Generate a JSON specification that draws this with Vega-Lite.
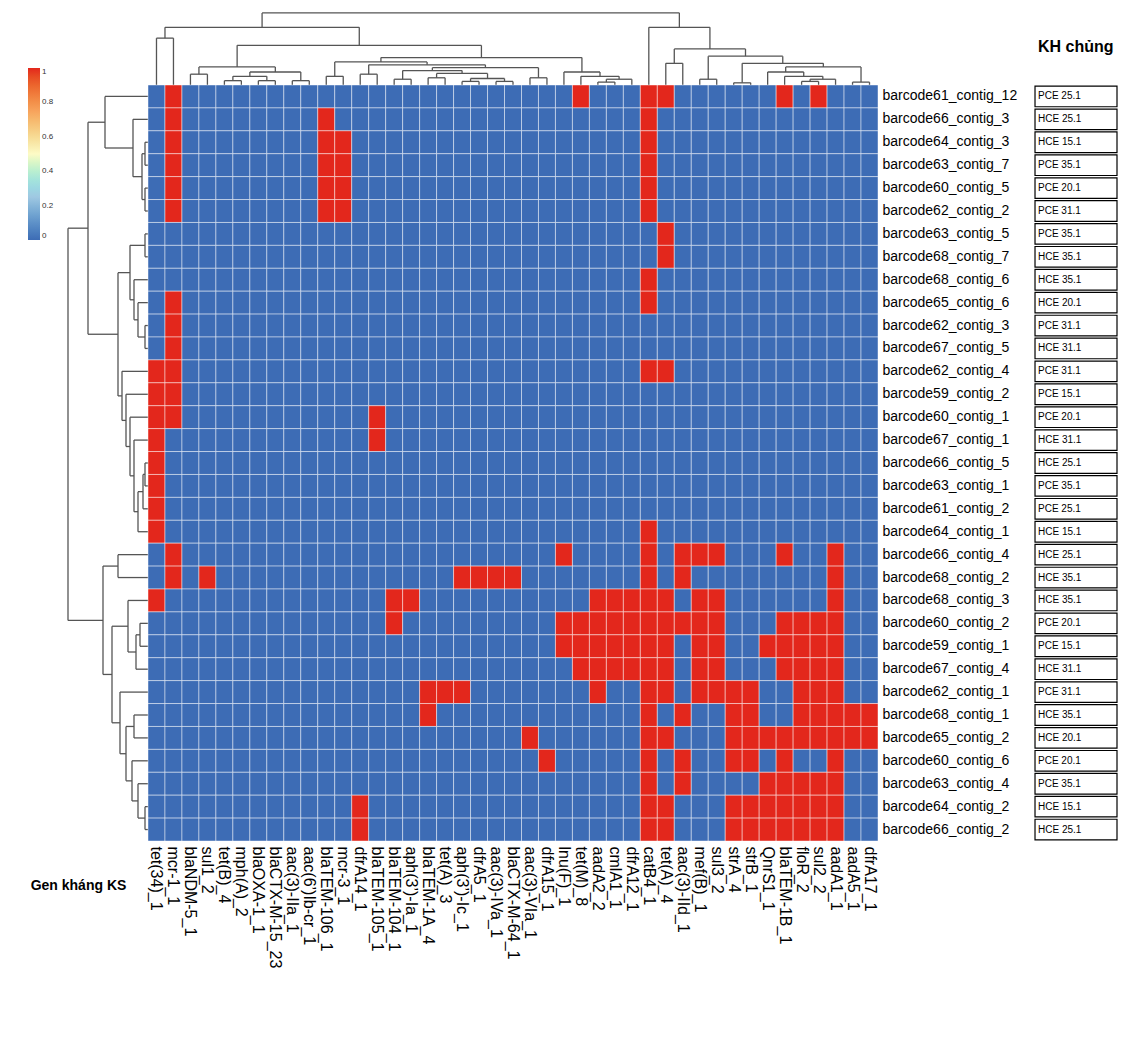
{
"$schema": "https://vega.github.io/schema/vega-lite/v6.json",
"padding": {"left": 20, "top": 10, "right": 5, "bottom": 5},
"config": {"view": {"stroke": null}, "font": "Liberation Sans"},
"datasets": {
"m": [
{"b":"barcode61_contig_12","k":"PCE 25.1","c01":0,"c02":1,"c03":0,"c04":0,"c05":0,"c06":0,"c07":0,"c08":0,"c09":0,"c10":0,"c11":0,"c12":0,"c13":0,"c14":0,"c15":0,"c16":0,"c17":0,"c18":0,"c19":0,"c20":0,"c21":0,"c22":0,"c23":0,"c24":0,"c25":0,"c26":1,"c27":0,"c28":0,"c29":0,"c30":1,"c31":1,"c32":0,"c33":0,"c34":0,"c35":0,"c36":0,"c37":0,"c38":1,"c39":0,"c40":1,"c41":0,"c42":0,"c43":0},
{"b":"barcode66_contig_3","k":"HCE 25.1","c01":0,"c02":1,"c03":0,"c04":0,"c05":0,"c06":0,"c07":0,"c08":0,"c09":0,"c10":0,"c11":1,"c12":0,"c13":0,"c14":0,"c15":0,"c16":0,"c17":0,"c18":0,"c19":0,"c20":0,"c21":0,"c22":0,"c23":0,"c24":0,"c25":0,"c26":0,"c27":0,"c28":0,"c29":0,"c30":1,"c31":0,"c32":0,"c33":0,"c34":0,"c35":0,"c36":0,"c37":0,"c38":0,"c39":0,"c40":0,"c41":0,"c42":0,"c43":0},
{"b":"barcode64_contig_3","k":"HCE 15.1","c01":0,"c02":1,"c03":0,"c04":0,"c05":0,"c06":0,"c07":0,"c08":0,"c09":0,"c10":0,"c11":1,"c12":1,"c13":0,"c14":0,"c15":0,"c16":0,"c17":0,"c18":0,"c19":0,"c20":0,"c21":0,"c22":0,"c23":0,"c24":0,"c25":0,"c26":0,"c27":0,"c28":0,"c29":0,"c30":1,"c31":0,"c32":0,"c33":0,"c34":0,"c35":0,"c36":0,"c37":0,"c38":0,"c39":0,"c40":0,"c41":0,"c42":0,"c43":0},
{"b":"barcode63_contig_7","k":"PCE 35.1","c01":0,"c02":1,"c03":0,"c04":0,"c05":0,"c06":0,"c07":0,"c08":0,"c09":0,"c10":0,"c11":1,"c12":1,"c13":0,"c14":0,"c15":0,"c16":0,"c17":0,"c18":0,"c19":0,"c20":0,"c21":0,"c22":0,"c23":0,"c24":0,"c25":0,"c26":0,"c27":0,"c28":0,"c29":0,"c30":1,"c31":0,"c32":0,"c33":0,"c34":0,"c35":0,"c36":0,"c37":0,"c38":0,"c39":0,"c40":0,"c41":0,"c42":0,"c43":0},
{"b":"barcode60_contig_5","k":"PCE 20.1","c01":0,"c02":1,"c03":0,"c04":0,"c05":0,"c06":0,"c07":0,"c08":0,"c09":0,"c10":0,"c11":1,"c12":1,"c13":0,"c14":0,"c15":0,"c16":0,"c17":0,"c18":0,"c19":0,"c20":0,"c21":0,"c22":0,"c23":0,"c24":0,"c25":0,"c26":0,"c27":0,"c28":0,"c29":0,"c30":1,"c31":0,"c32":0,"c33":0,"c34":0,"c35":0,"c36":0,"c37":0,"c38":0,"c39":0,"c40":0,"c41":0,"c42":0,"c43":0},
{"b":"barcode62_contig_2","k":"PCE 31.1","c01":0,"c02":1,"c03":0,"c04":0,"c05":0,"c06":0,"c07":0,"c08":0,"c09":0,"c10":0,"c11":1,"c12":1,"c13":0,"c14":0,"c15":0,"c16":0,"c17":0,"c18":0,"c19":0,"c20":0,"c21":0,"c22":0,"c23":0,"c24":0,"c25":0,"c26":0,"c27":0,"c28":0,"c29":0,"c30":1,"c31":0,"c32":0,"c33":0,"c34":0,"c35":0,"c36":0,"c37":0,"c38":0,"c39":0,"c40":0,"c41":0,"c42":0,"c43":0},
{"b":"barcode63_contig_5","k":"PCE 35.1","c01":0,"c02":0,"c03":0,"c04":0,"c05":0,"c06":0,"c07":0,"c08":0,"c09":0,"c10":0,"c11":0,"c12":0,"c13":0,"c14":0,"c15":0,"c16":0,"c17":0,"c18":0,"c19":0,"c20":0,"c21":0,"c22":0,"c23":0,"c24":0,"c25":0,"c26":0,"c27":0,"c28":0,"c29":0,"c30":0,"c31":1,"c32":0,"c33":0,"c34":0,"c35":0,"c36":0,"c37":0,"c38":0,"c39":0,"c40":0,"c41":0,"c42":0,"c43":0},
{"b":"barcode68_contig_7","k":"HCE 35.1","c01":0,"c02":0,"c03":0,"c04":0,"c05":0,"c06":0,"c07":0,"c08":0,"c09":0,"c10":0,"c11":0,"c12":0,"c13":0,"c14":0,"c15":0,"c16":0,"c17":0,"c18":0,"c19":0,"c20":0,"c21":0,"c22":0,"c23":0,"c24":0,"c25":0,"c26":0,"c27":0,"c28":0,"c29":0,"c30":0,"c31":1,"c32":0,"c33":0,"c34":0,"c35":0,"c36":0,"c37":0,"c38":0,"c39":0,"c40":0,"c41":0,"c42":0,"c43":0},
{"b":"barcode68_contig_6","k":"HCE 35.1","c01":0,"c02":0,"c03":0,"c04":0,"c05":0,"c06":0,"c07":0,"c08":0,"c09":0,"c10":0,"c11":0,"c12":0,"c13":0,"c14":0,"c15":0,"c16":0,"c17":0,"c18":0,"c19":0,"c20":0,"c21":0,"c22":0,"c23":0,"c24":0,"c25":0,"c26":0,"c27":0,"c28":0,"c29":0,"c30":1,"c31":0,"c32":0,"c33":0,"c34":0,"c35":0,"c36":0,"c37":0,"c38":0,"c39":0,"c40":0,"c41":0,"c42":0,"c43":0},
{"b":"barcode65_contig_6","k":"HCE 20.1","c01":0,"c02":1,"c03":0,"c04":0,"c05":0,"c06":0,"c07":0,"c08":0,"c09":0,"c10":0,"c11":0,"c12":0,"c13":0,"c14":0,"c15":0,"c16":0,"c17":0,"c18":0,"c19":0,"c20":0,"c21":0,"c22":0,"c23":0,"c24":0,"c25":0,"c26":0,"c27":0,"c28":0,"c29":0,"c30":1,"c31":0,"c32":0,"c33":0,"c34":0,"c35":0,"c36":0,"c37":0,"c38":0,"c39":0,"c40":0,"c41":0,"c42":0,"c43":0},
{"b":"barcode62_contig_3","k":"PCE 31.1","c01":0,"c02":1,"c03":0,"c04":0,"c05":0,"c06":0,"c07":0,"c08":0,"c09":0,"c10":0,"c11":0,"c12":0,"c13":0,"c14":0,"c15":0,"c16":0,"c17":0,"c18":0,"c19":0,"c20":0,"c21":0,"c22":0,"c23":0,"c24":0,"c25":0,"c26":0,"c27":0,"c28":0,"c29":0,"c30":0,"c31":0,"c32":0,"c33":0,"c34":0,"c35":0,"c36":0,"c37":0,"c38":0,"c39":0,"c40":0,"c41":0,"c42":0,"c43":0},
{"b":"barcode67_contig_5","k":"HCE 31.1","c01":0,"c02":1,"c03":0,"c04":0,"c05":0,"c06":0,"c07":0,"c08":0,"c09":0,"c10":0,"c11":0,"c12":0,"c13":0,"c14":0,"c15":0,"c16":0,"c17":0,"c18":0,"c19":0,"c20":0,"c21":0,"c22":0,"c23":0,"c24":0,"c25":0,"c26":0,"c27":0,"c28":0,"c29":0,"c30":0,"c31":0,"c32":0,"c33":0,"c34":0,"c35":0,"c36":0,"c37":0,"c38":0,"c39":0,"c40":0,"c41":0,"c42":0,"c43":0},
{"b":"barcode62_contig_4","k":"PCE 31.1","c01":1,"c02":1,"c03":0,"c04":0,"c05":0,"c06":0,"c07":0,"c08":0,"c09":0,"c10":0,"c11":0,"c12":0,"c13":0,"c14":0,"c15":0,"c16":0,"c17":0,"c18":0,"c19":0,"c20":0,"c21":0,"c22":0,"c23":0,"c24":0,"c25":0,"c26":0,"c27":0,"c28":0,"c29":0,"c30":1,"c31":1,"c32":0,"c33":0,"c34":0,"c35":0,"c36":0,"c37":0,"c38":0,"c39":0,"c40":0,"c41":0,"c42":0,"c43":0},
{"b":"barcode59_contig_2","k":"PCE 15.1","c01":1,"c02":1,"c03":0,"c04":0,"c05":0,"c06":0,"c07":0,"c08":0,"c09":0,"c10":0,"c11":0,"c12":0,"c13":0,"c14":0,"c15":0,"c16":0,"c17":0,"c18":0,"c19":0,"c20":0,"c21":0,"c22":0,"c23":0,"c24":0,"c25":0,"c26":0,"c27":0,"c28":0,"c29":0,"c30":0,"c31":0,"c32":0,"c33":0,"c34":0,"c35":0,"c36":0,"c37":0,"c38":0,"c39":0,"c40":0,"c41":0,"c42":0,"c43":0},
{"b":"barcode60_contig_1","k":"PCE 20.1","c01":1,"c02":1,"c03":0,"c04":0,"c05":0,"c06":0,"c07":0,"c08":0,"c09":0,"c10":0,"c11":0,"c12":0,"c13":0,"c14":1,"c15":0,"c16":0,"c17":0,"c18":0,"c19":0,"c20":0,"c21":0,"c22":0,"c23":0,"c24":0,"c25":0,"c26":0,"c27":0,"c28":0,"c29":0,"c30":0,"c31":0,"c32":0,"c33":0,"c34":0,"c35":0,"c36":0,"c37":0,"c38":0,"c39":0,"c40":0,"c41":0,"c42":0,"c43":0},
{"b":"barcode67_contig_1","k":"HCE 31.1","c01":1,"c02":0,"c03":0,"c04":0,"c05":0,"c06":0,"c07":0,"c08":0,"c09":0,"c10":0,"c11":0,"c12":0,"c13":0,"c14":1,"c15":0,"c16":0,"c17":0,"c18":0,"c19":0,"c20":0,"c21":0,"c22":0,"c23":0,"c24":0,"c25":0,"c26":0,"c27":0,"c28":0,"c29":0,"c30":0,"c31":0,"c32":0,"c33":0,"c34":0,"c35":0,"c36":0,"c37":0,"c38":0,"c39":0,"c40":0,"c41":0,"c42":0,"c43":0},
{"b":"barcode66_contig_5","k":"HCE 25.1","c01":1,"c02":0,"c03":0,"c04":0,"c05":0,"c06":0,"c07":0,"c08":0,"c09":0,"c10":0,"c11":0,"c12":0,"c13":0,"c14":0,"c15":0,"c16":0,"c17":0,"c18":0,"c19":0,"c20":0,"c21":0,"c22":0,"c23":0,"c24":0,"c25":0,"c26":0,"c27":0,"c28":0,"c29":0,"c30":0,"c31":0,"c32":0,"c33":0,"c34":0,"c35":0,"c36":0,"c37":0,"c38":0,"c39":0,"c40":0,"c41":0,"c42":0,"c43":0},
{"b":"barcode63_contig_1","k":"PCE 35.1","c01":1,"c02":0,"c03":0,"c04":0,"c05":0,"c06":0,"c07":0,"c08":0,"c09":0,"c10":0,"c11":0,"c12":0,"c13":0,"c14":0,"c15":0,"c16":0,"c17":0,"c18":0,"c19":0,"c20":0,"c21":0,"c22":0,"c23":0,"c24":0,"c25":0,"c26":0,"c27":0,"c28":0,"c29":0,"c30":0,"c31":0,"c32":0,"c33":0,"c34":0,"c35":0,"c36":0,"c37":0,"c38":0,"c39":0,"c40":0,"c41":0,"c42":0,"c43":0},
{"b":"barcode61_contig_2","k":"PCE 25.1","c01":1,"c02":0,"c03":0,"c04":0,"c05":0,"c06":0,"c07":0,"c08":0,"c09":0,"c10":0,"c11":0,"c12":0,"c13":0,"c14":0,"c15":0,"c16":0,"c17":0,"c18":0,"c19":0,"c20":0,"c21":0,"c22":0,"c23":0,"c24":0,"c25":0,"c26":0,"c27":0,"c28":0,"c29":0,"c30":0,"c31":0,"c32":0,"c33":0,"c34":0,"c35":0,"c36":0,"c37":0,"c38":0,"c39":0,"c40":0,"c41":0,"c42":0,"c43":0},
{"b":"barcode64_contig_1","k":"HCE 15.1","c01":1,"c02":0,"c03":0,"c04":0,"c05":0,"c06":0,"c07":0,"c08":0,"c09":0,"c10":0,"c11":0,"c12":0,"c13":0,"c14":0,"c15":0,"c16":0,"c17":0,"c18":0,"c19":0,"c20":0,"c21":0,"c22":0,"c23":0,"c24":0,"c25":0,"c26":0,"c27":0,"c28":0,"c29":0,"c30":1,"c31":0,"c32":0,"c33":0,"c34":0,"c35":0,"c36":0,"c37":0,"c38":0,"c39":0,"c40":0,"c41":0,"c42":0,"c43":0},
{"b":"barcode66_contig_4","k":"HCE 25.1","c01":0,"c02":1,"c03":0,"c04":0,"c05":0,"c06":0,"c07":0,"c08":0,"c09":0,"c10":0,"c11":0,"c12":0,"c13":0,"c14":0,"c15":0,"c16":0,"c17":0,"c18":0,"c19":0,"c20":0,"c21":0,"c22":0,"c23":0,"c24":0,"c25":1,"c26":0,"c27":0,"c28":0,"c29":0,"c30":1,"c31":0,"c32":1,"c33":1,"c34":1,"c35":0,"c36":0,"c37":0,"c38":1,"c39":0,"c40":0,"c41":1,"c42":0,"c43":0},
{"b":"barcode68_contig_2","k":"HCE 35.1","c01":0,"c02":1,"c03":0,"c04":1,"c05":0,"c06":0,"c07":0,"c08":0,"c09":0,"c10":0,"c11":0,"c12":0,"c13":0,"c14":0,"c15":0,"c16":0,"c17":0,"c18":0,"c19":1,"c20":1,"c21":1,"c22":1,"c23":0,"c24":0,"c25":0,"c26":0,"c27":0,"c28":0,"c29":0,"c30":1,"c31":0,"c32":1,"c33":0,"c34":0,"c35":0,"c36":0,"c37":0,"c38":0,"c39":0,"c40":0,"c41":1,"c42":0,"c43":0},
{"b":"barcode68_contig_3","k":"HCE 35.1","c01":1,"c02":0,"c03":0,"c04":0,"c05":0,"c06":0,"c07":0,"c08":0,"c09":0,"c10":0,"c11":0,"c12":0,"c13":0,"c14":0,"c15":1,"c16":1,"c17":0,"c18":0,"c19":0,"c20":0,"c21":0,"c22":0,"c23":0,"c24":0,"c25":0,"c26":0,"c27":1,"c28":1,"c29":1,"c30":1,"c31":1,"c32":0,"c33":1,"c34":1,"c35":0,"c36":0,"c37":0,"c38":0,"c39":0,"c40":0,"c41":1,"c42":0,"c43":0},
{"b":"barcode60_contig_2","k":"PCE 20.1","c01":0,"c02":0,"c03":0,"c04":0,"c05":0,"c06":0,"c07":0,"c08":0,"c09":0,"c10":0,"c11":0,"c12":0,"c13":0,"c14":0,"c15":1,"c16":0,"c17":0,"c18":0,"c19":0,"c20":0,"c21":0,"c22":0,"c23":0,"c24":0,"c25":1,"c26":1,"c27":1,"c28":1,"c29":1,"c30":1,"c31":1,"c32":1,"c33":1,"c34":1,"c35":0,"c36":0,"c37":0,"c38":1,"c39":1,"c40":1,"c41":1,"c42":0,"c43":0},
{"b":"barcode59_contig_1","k":"PCE 15.1","c01":0,"c02":0,"c03":0,"c04":0,"c05":0,"c06":0,"c07":0,"c08":0,"c09":0,"c10":0,"c11":0,"c12":0,"c13":0,"c14":0,"c15":0,"c16":0,"c17":0,"c18":0,"c19":0,"c20":0,"c21":0,"c22":0,"c23":0,"c24":0,"c25":1,"c26":1,"c27":1,"c28":1,"c29":1,"c30":1,"c31":1,"c32":0,"c33":1,"c34":1,"c35":0,"c36":0,"c37":1,"c38":1,"c39":1,"c40":1,"c41":1,"c42":0,"c43":0},
{"b":"barcode67_contig_4","k":"HCE 31.1","c01":0,"c02":0,"c03":0,"c04":0,"c05":0,"c06":0,"c07":0,"c08":0,"c09":0,"c10":0,"c11":0,"c12":0,"c13":0,"c14":0,"c15":0,"c16":0,"c17":0,"c18":0,"c19":0,"c20":0,"c21":0,"c22":0,"c23":0,"c24":0,"c25":0,"c26":1,"c27":1,"c28":1,"c29":1,"c30":1,"c31":1,"c32":0,"c33":1,"c34":1,"c35":0,"c36":0,"c37":0,"c38":1,"c39":1,"c40":1,"c41":1,"c42":0,"c43":0},
{"b":"barcode62_contig_1","k":"PCE 31.1","c01":0,"c02":0,"c03":0,"c04":0,"c05":0,"c06":0,"c07":0,"c08":0,"c09":0,"c10":0,"c11":0,"c12":0,"c13":0,"c14":0,"c15":0,"c16":0,"c17":1,"c18":1,"c19":1,"c20":0,"c21":0,"c22":0,"c23":0,"c24":0,"c25":0,"c26":0,"c27":1,"c28":0,"c29":0,"c30":1,"c31":1,"c32":0,"c33":1,"c34":1,"c35":1,"c36":1,"c37":0,"c38":0,"c39":1,"c40":1,"c41":1,"c42":0,"c43":0},
{"b":"barcode68_contig_1","k":"HCE 35.1","c01":0,"c02":0,"c03":0,"c04":0,"c05":0,"c06":0,"c07":0,"c08":0,"c09":0,"c10":0,"c11":0,"c12":0,"c13":0,"c14":0,"c15":0,"c16":0,"c17":1,"c18":0,"c19":0,"c20":0,"c21":0,"c22":0,"c23":0,"c24":0,"c25":0,"c26":0,"c27":0,"c28":0,"c29":0,"c30":1,"c31":0,"c32":1,"c33":0,"c34":0,"c35":1,"c36":1,"c37":0,"c38":0,"c39":1,"c40":1,"c41":1,"c42":1,"c43":1},
{"b":"barcode65_contig_2","k":"HCE 20.1","c01":0,"c02":0,"c03":0,"c04":0,"c05":0,"c06":0,"c07":0,"c08":0,"c09":0,"c10":0,"c11":0,"c12":0,"c13":0,"c14":0,"c15":0,"c16":0,"c17":0,"c18":0,"c19":0,"c20":0,"c21":0,"c22":0,"c23":1,"c24":0,"c25":0,"c26":0,"c27":0,"c28":0,"c29":0,"c30":1,"c31":1,"c32":0,"c33":0,"c34":0,"c35":1,"c36":1,"c37":1,"c38":1,"c39":1,"c40":1,"c41":1,"c42":1,"c43":1},
{"b":"barcode60_contig_6","k":"PCE 20.1","c01":0,"c02":0,"c03":0,"c04":0,"c05":0,"c06":0,"c07":0,"c08":0,"c09":0,"c10":0,"c11":0,"c12":0,"c13":0,"c14":0,"c15":0,"c16":0,"c17":0,"c18":0,"c19":0,"c20":0,"c21":0,"c22":0,"c23":0,"c24":1,"c25":0,"c26":0,"c27":0,"c28":0,"c29":0,"c30":1,"c31":0,"c32":1,"c33":0,"c34":0,"c35":1,"c36":1,"c37":0,"c38":1,"c39":0,"c40":0,"c41":1,"c42":0,"c43":0},
{"b":"barcode63_contig_4","k":"PCE 35.1","c01":0,"c02":0,"c03":0,"c04":0,"c05":0,"c06":0,"c07":0,"c08":0,"c09":0,"c10":0,"c11":0,"c12":0,"c13":0,"c14":0,"c15":0,"c16":0,"c17":0,"c18":0,"c19":0,"c20":0,"c21":0,"c22":0,"c23":0,"c24":0,"c25":0,"c26":0,"c27":0,"c28":0,"c29":0,"c30":1,"c31":0,"c32":1,"c33":0,"c34":0,"c35":0,"c36":0,"c37":1,"c38":1,"c39":1,"c40":1,"c41":1,"c42":0,"c43":0},
{"b":"barcode64_contig_2","k":"HCE 15.1","c01":0,"c02":0,"c03":0,"c04":0,"c05":0,"c06":0,"c07":0,"c08":0,"c09":0,"c10":0,"c11":0,"c12":0,"c13":1,"c14":0,"c15":0,"c16":0,"c17":0,"c18":0,"c19":0,"c20":0,"c21":0,"c22":0,"c23":0,"c24":0,"c25":0,"c26":0,"c27":0,"c28":0,"c29":0,"c30":1,"c31":1,"c32":0,"c33":0,"c34":0,"c35":1,"c36":1,"c37":1,"c38":1,"c39":1,"c40":1,"c41":1,"c42":0,"c43":0},
{"b":"barcode66_contig_2","k":"HCE 25.1","c01":0,"c02":0,"c03":0,"c04":0,"c05":0,"c06":0,"c07":0,"c08":0,"c09":0,"c10":0,"c11":0,"c12":0,"c13":1,"c14":0,"c15":0,"c16":0,"c17":0,"c18":0,"c19":0,"c20":0,"c21":0,"c22":0,"c23":0,"c24":0,"c25":0,"c26":0,"c27":0,"c28":0,"c29":0,"c30":1,"c31":1,"c32":0,"c33":0,"c34":0,"c35":1,"c36":1,"c37":1,"c38":1,"c39":1,"c40":1,"c41":1,"c42":0,"c43":0}
],
"genes": [
{"c":"c01","g":"tet(34)_1"},{"c":"c02","g":"mcr-1_1"},{"c":"c03","g":"blaNDM-5_1"},{"c":"c04","g":"sul1_2"},{"c":"c05","g":"tet(B)_4"},{"c":"c06","g":"mph(A)_2"},{"c":"c07","g":"blaOXA-1_1"},{"c":"c08","g":"blaCTX-M-15_23"},{"c":"c09","g":"aac(3)-IIa_1"},{"c":"c10","g":"aac(6’)Ib-cr_1"},
{"c":"c11","g":"blaTEM-106_1"},{"c":"c12","g":"mcr-3_1"},{"c":"c13","g":"dfrA14_1"},{"c":"c14","g":"blaTEM-105_1"},{"c":"c15","g":"blaTEM-104_1"},{"c":"c16","g":"aph(3’)-Ia_1"},{"c":"c17","g":"blaTEM-1A_4"},{"c":"c18","g":"tet(A)_3"},{"c":"c19","g":"aph(3’)-Ic_1"},{"c":"c20","g":"dfrA5_1"},
{"c":"c21","g":"aac(3)-IVa_1"},{"c":"c22","g":"blaCTX-M-64_1"},{"c":"c23","g":"aac(3)-VIa_1"},{"c":"c24","g":"dfrA15_1"},{"c":"c25","g":"lnu(F)_1"},{"c":"c26","g":"tet(M)_8"},{"c":"c27","g":"aadA2_2"},{"c":"c28","g":"cmlA1_1"},{"c":"c29","g":"dfrA12_1"},{"c":"c30","g":"catB4_1"},
{"c":"c31","g":"tet(A)_4"},{"c":"c32","g":"aac(3)-IId_1"},{"c":"c33","g":"mef(B)_1"},{"c":"c34","g":"sul3_2"},{"c":"c35","g":"strA_4"},{"c":"c36","g":"strB_1"},{"c":"c37","g":"QnrS1_1"},{"c":"c38","g":"blaTEM-1B_1"},{"c":"c39","g":"floR_2"},{"c":"c40","g":"sul2_2"},
{"c":"c41","g":"aadA1_1"},{"c":"c42","g":"aadA5_1"},{"c":"c43","g":"dfrA17_1"}
],
"rowtree": [
{"pa":2.5,"ha":0,"pb":3.5,"hb":0,"h":0.3},
{"pa":4.5,"ha":0,"pb":5.5,"hb":0,"h":0.3},
{"pa":3.0,"ha":0.3,"pb":5.0,"hb":0.3,"h":0.6},
{"pa":1.5,"ha":0,"pb":4.0,"hb":0.6,"h":1.5},
{"pa":0.5,"ha":0,"pb":2.75,"hb":1.5,"h":4.3},
{"pa":6.5,"ha":0,"pb":7.5,"hb":0,"h":0.3},
{"pa":10.5,"ha":0,"pb":11.5,"hb":0,"h":0.3},
{"pa":9.5,"ha":0,"pb":11.0,"hb":0.3,"h":1.0},
{"pa":8.5,"ha":0,"pb":10.25,"hb":1.0,"h":1.4},
{"pa":7.0,"ha":0.3,"pb":9.375,"hb":1.4,"h":1.8},
{"pa":16.5,"ha":0,"pb":17.5,"hb":0,"h":0.3},
{"pa":17.0,"ha":0.3,"pb":18.5,"hb":0,"h":0.5},
{"pa":17.75,"ha":0.5,"pb":19.5,"hb":0,"h":1.0},
{"pa":15.5,"ha":0,"pb":18.625,"hb":1.0,"h":1.4},
{"pa":14.5,"ha":0,"pb":17.06,"hb":1.4,"h":1.8},
{"pa":13.5,"ha":0,"pb":15.78,"hb":1.8,"h":2.2},
{"pa":12.5,"ha":0,"pb":14.64,"hb":2.2,"h":2.6},
{"pa":8.19,"ha":1.8,"pb":13.57,"hb":2.6,"h":3.0},
{"pa":1.625,"ha":4.3,"pb":10.88,"hb":3.0,"h":6.0},
{"pa":20.5,"ha":0,"pb":21.5,"hb":0,"h":3.0},
{"pa":23.5,"ha":0,"pb":24.5,"hb":0,"h":0.8},
{"pa":24.0,"ha":0.8,"pb":25.5,"hb":0,"h":1.2},
{"pa":22.5,"ha":0,"pb":24.75,"hb":1.2,"h":2.0},
{"pa":31.5,"ha":0,"pb":32.5,"hb":0,"h":0.3},
{"pa":30.5,"ha":0,"pb":32.0,"hb":0.3,"h":1.0},
{"pa":29.5,"ha":0,"pb":31.25,"hb":1.0,"h":1.6},
{"pa":27.5,"ha":0,"pb":28.5,"hb":0,"h":1.4},
{"pa":28.0,"ha":1.4,"pb":30.375,"hb":1.6,"h":2.2},
{"pa":26.5,"ha":0,"pb":29.19,"hb":2.2,"h":2.8},
{"pa":23.625,"ha":2.0,"pb":27.84,"hb":2.8,"h":3.6},
{"pa":21.0,"ha":3.0,"pb":25.73,"hb":3.6,"h":4.5},
{"pa":6.25,"ha":6.0,"pb":23.37,"hb":4.5,"h":8.0}
],
"coltree": [
{"pa":4.5,"ha":0,"pb":5.5,"hb":0,"h":0.6},
{"pa":6.5,"ha":0,"pb":7.5,"hb":0,"h":0.6},
{"pa":8.5,"ha":0,"pb":9.5,"hb":0,"h":0.6},
{"pa":5.0,"ha":0.6,"pb":7.0,"hb":0.6,"h":1.2},
{"pa":6.0,"ha":1.2,"pb":9.0,"hb":0.6,"h":1.8},
{"pa":2.5,"ha":0,"pb":3.5,"hb":0,"h":1.5},
{"pa":3.0,"ha":1.5,"pb":7.5,"hb":1.8,"h":2.5},
{"pa":10.5,"ha":0,"pb":11.5,"hb":0,"h":1.2},
{"pa":12.5,"ha":0,"pb":13.5,"hb":0,"h":1.5},
{"pa":14.5,"ha":0,"pb":15.5,"hb":0,"h":0.8},
{"pa":16.5,"ha":0,"pb":17.5,"hb":0,"h":1.0},
{"pa":18.5,"ha":0,"pb":19.5,"hb":0,"h":0.5},
{"pa":20.5,"ha":0,"pb":21.5,"hb":0,"h":0.5},
{"pa":22.5,"ha":0,"pb":23.5,"hb":0,"h":1.0},
{"pa":19.0,"ha":0.5,"pb":21.0,"hb":0.5,"h":0.9},
{"pa":17.0,"ha":1.0,"pb":20.0,"hb":0.9,"h":1.6},
{"pa":15.0,"ha":0.8,"pb":18.5,"hb":1.6,"h":2.0},
{"pa":16.75,"ha":2.0,"pb":23.0,"hb":1.0,"h":2.4},
{"pa":13.0,"ha":1.5,"pb":19.875,"hb":2.4,"h":2.8},
{"pa":11.0,"ha":1.2,"pb":16.44,"hb":2.8,"h":3.2},
{"pa":26.5,"ha":0,"pb":27.5,"hb":0,"h":0.4},
{"pa":27.0,"ha":0.4,"pb":28.5,"hb":0,"h":0.8},
{"pa":25.5,"ha":0,"pb":27.75,"hb":0.8,"h":1.2},
{"pa":24.5,"ha":0,"pb":26.625,"hb":1.2,"h":1.8},
{"pa":13.72,"ha":3.2,"pb":25.56,"hb":1.8,"h":3.8},
{"pa":5.25,"ha":2.5,"pb":19.64,"hb":3.8,"h":5.5},
{"pa":0.5,"ha":0,"pb":1.5,"hb":0,"h":6.5},
{"pa":1.0,"ha":6.5,"pb":12.445,"hb":5.5,"h":8.0},
{"pa":34.5,"ha":0,"pb":35.5,"hb":0,"h":0.3},
{"pa":38.5,"ha":0,"pb":39.5,"hb":0,"h":0.5},
{"pa":39.0,"ha":0.5,"pb":40.5,"hb":0,"h":0.8},
{"pa":37.5,"ha":0,"pb":39.75,"hb":0.8,"h":1.2},
{"pa":36.5,"ha":0,"pb":38.625,"hb":1.2,"h":1.8},
{"pa":41.5,"ha":0,"pb":42.5,"hb":0,"h":0.4},
{"pa":37.5625,"ha":1.8,"pb":42.0,"hb":0.4,"h":2.5},
{"pa":35.0,"ha":0.3,"pb":39.78,"hb":2.5,"h":3.0},
{"pa":32.5,"ha":0,"pb":33.5,"hb":0,"h":0.8},
{"pa":33.0,"ha":0.8,"pb":37.39,"hb":3.0,"h":4.0},
{"pa":30.5,"ha":0,"pb":31.5,"hb":0,"h":3.0},
{"pa":31.0,"ha":3.0,"pb":35.195,"hb":4.0,"h":5.0},
{"pa":29.5,"ha":0,"pb":33.1,"hb":5.0,"h":8.0},
{"pa":6.72,"ha":8.0,"pb":31.3,"hb":8.0,"h":10.0}
]
},
"columns": 3,
"spacing": {"row": 0, "column": 0},
"bounds": "flush",
"concat": [
{"width": 128, "height": 75, "data": {"values": [{}]}, "mark": {"type": "text", "opacity": 0}, "encoding": {"text": {"value": ""}}},
{
"width": 730, "height": 75,
"data": {"name": "coltree"},
"layer": [
{"mark": {"type": "rule", "color": "#555555", "strokeWidth": 1.3}, "encoding": {"x": {"field": "pa", "type": "quantitative", "scale": {"domain": [0, 43], "nice": false, "zero": false}, "axis": null}, "y": {"field": "ha", "type": "quantitative", "scale": {"domain": [0, 10.4], "nice": false, "zero": false}, "axis": null}, "y2": {"field": "h"}}},
{"mark": {"type": "rule", "color": "#555555", "strokeWidth": 1.3}, "encoding": {"x": {"field": "pb", "type": "quantitative", "axis": null}, "y": {"field": "hb", "type": "quantitative", "axis": null}, "y2": {"field": "h"}}},
{"mark": {"type": "rule", "color": "#555555", "strokeWidth": 1.3}, "encoding": {"x": {"field": "pa", "type": "quantitative", "axis": null}, "x2": {"field": "pb"}, "y": {"field": "h", "type": "quantitative", "axis": null}}}
]
},
{"width": 239, "height": 75, "data": {"values": [{}]}, "mark": {"type": "text", "opacity": 0}, "encoding": {"text": {"value": ""}}},
{
"width": 128, "height": 756,
"data": {"name": "rowtree"},
"layer": [
{"mark": {"type": "rule", "color": "#555555", "strokeWidth": 1.3}, "encoding": {"x": {"field": "ha", "type": "quantitative", "scale": {"domain": [0, 12.8], "reverse": true, "nice": false, "zero": false}, "axis": null}, "x2": {"field": "h"}, "y": {"field": "pa", "type": "quantitative", "scale": {"domain": [0, 33], "reverse": true, "nice": false, "zero": false}, "axis": null}}},
{"mark": {"type": "rule", "color": "#555555", "strokeWidth": 1.3}, "encoding": {"x": {"field": "hb", "type": "quantitative", "axis": null}, "x2": {"field": "h"}, "y": {"field": "pb", "type": "quantitative", "axis": null}}},
{"mark": {"type": "rule", "color": "#555555", "strokeWidth": 1.3}, "encoding": {"x": {"field": "h", "type": "quantitative", "axis": null}, "y": {"field": "pa", "type": "quantitative", "axis": null}, "y2": {"field": "pb"}}}
]
},
{
"width": 730, "height": 756,
"data": {"name": "m"},
"transform": [
{"fold": ["c01","c02","c03","c04","c05","c06","c07","c08","c09","c10","c11","c12","c13","c14","c15","c16","c17","c18","c19","c20","c21","c22","c23","c24","c25","c26","c27","c28","c29","c30","c31","c32","c33","c34","c35","c36","c37","c38","c39","c40","c41","c42","c43"], "as": ["c", "v"]},
{"lookup": "c", "from": {"data": {"name": "genes"}, "key": "c", "fields": ["g"]}}
],
"mark": {"type": "rect", "stroke": "#ffffff", "strokeOpacity": 0.45, "strokeWidth": 1},
"encoding": {
"x": {"field": "g", "type": "nominal", "sort": null, "scale": {"paddingInner": 0, "paddingOuter": 0},
"axis": {"title": "Gen kháng KS", "titleX": -70, "titleY": 44, "titleAngle": 0, "titleAlign": "center", "titleBaseline": "middle", "titleFontSize": 14, "titleFontWeight": "bold", "titleColor": "#000000", "labelAngle": 90, "labelFontSize": 16, "labelColor": "#000000", "labelPadding": 5, "ticks": false, "domain": false, "labelOverlap": false, "labelLimit": 0}},
"y": {"field": "b", "type": "nominal", "sort": null, "scale": {"paddingInner": 0, "paddingOuter": 0},
"axis": {"orient": "right", "title": null, "labelFontSize": 14, "labelColor": "#000000", "labelPadding": 4, "ticks": false, "domain": false, "labelLimit": 0}},
"color": {"field": "v", "type": "quantitative",
"scale": {"domain": [0, 0.25, 0.5, 0.75, 1], "range": ["#3d6cb5", "#9fc8e2", "#fdfbc6", "#f7a35c", "#e3271c"]},
"legend": {"orient": "none", "legendX": 8, "legendY": 58, "title": null, "direction": "vertical", "gradientLength": 172, "gradientThickness": 12, "gradientStrokeWidth": 0, "values": [0, 0.2, 0.4, 0.6, 0.8, 1], "format": ".1~f", "labelFontSize": 8, "labelColor": "#333333"}}
}
},
{
"width": 239, "height": 756,
"data": {"name": "m"},
"title": {"text": "KH chủng", "fontSize": 16, "fontWeight": "bold", "offset": 30, "anchor": "end", "dx": -4, "color": "#000000"},
"layer": [
{"mark": {"type": "rect", "fill": "#ffffff", "stroke": "#000000", "strokeWidth": 1.2}, "encoding": {"x": {"datum": 0, "type": "quantitative", "scale": {"domain": [-1.915, 1], "nice": false, "zero": false}, "axis": null}, "x2": {"datum": 1}, "y": {"field": "b", "type": "nominal", "sort": null, "scale": {"paddingInner": 0.1, "paddingOuter": 0.05}, "axis": null}}},
{"mark": {"type": "text", "align": "left", "dx": 3, "fontSize": 10, "color": "#000000"}, "encoding": {"x": {"datum": 0, "type": "quantitative", "axis": null}, "y": {"field": "b", "type": "nominal", "sort": null, "axis": null}, "text": {"field": "k"}}}
]
}
]
}
